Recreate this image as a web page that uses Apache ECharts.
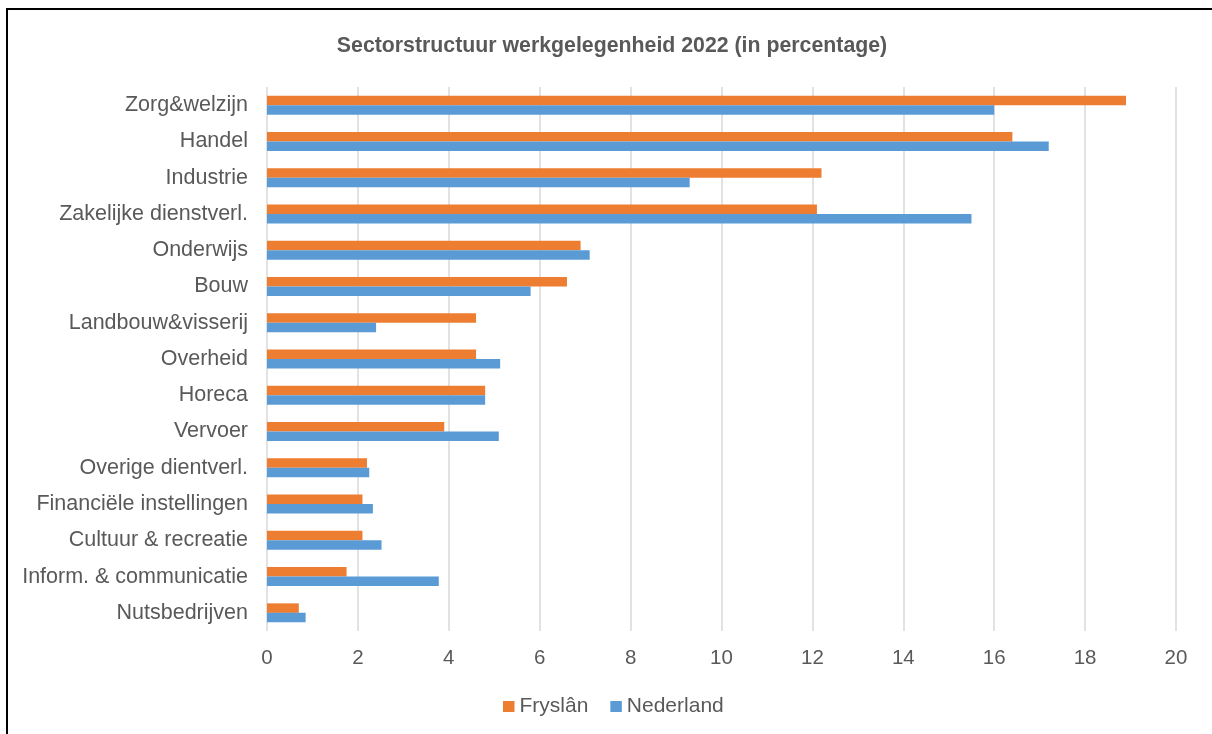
<!DOCTYPE html>
<html>
<head>
<meta charset="utf-8">
<script src="https://cdn.jsdelivr.net/npm/echarts@6/dist/echarts.min.js"></script>
<style>
  html, body { margin: 0; padding: 0; background: #fff; }
  #chart { width: 1212px; height: 734px; }
</style>
</head>
<body>
<div id="chart"></div>
<script>
  // sectoren, van boven naar beneden
  var sectors = [
    'Zorg&welzijn', 'Handel', 'Industrie', 'Zakelijke dienstverl.', 'Onderwijs',
    'Bouw', 'Landbouw&visserij', 'Overheid', 'Horeca', 'Vervoer',
    'Overige dientverl.', 'Financiële instellingen', 'Cultuur & recreatie',
    'Inform. & communicatie', 'Nutsbedrijven'
  ];
  var fryslan = [18.9, 16.4, 12.2, 12.1, 6.9, 6.6, 4.6, 4.6, 4.8, 3.9, 2.2, 2.1, 2.1, 1.75, 0.7];
  var nederland = [16.0, 17.2, 9.3, 15.5, 7.1, 5.8, 2.4, 5.13, 4.8, 5.1, 2.25, 2.33, 2.52, 3.78, 0.85];
  var xTicks = [0, 2, 4, 6, 8, 10, 12, 14, 16, 18, 20];

  var textColor = '#595959';
  var font = 'Liberation Sans, Arial, sans-serif';

  var myChart = echarts.init(document.getElementById('chart'));
  var option = {
    animation: false,
    backgroundColor: '#fff',
    textStyle: { fontFamily: font },
    title: {
      text: 'Sectorstructuur werkgelegenheid 2022 (in percentage)',
      left: 607,
      top: 31,
      textAlign: 'center',
      textStyle: { color: textColor, fontSize: 21.3, fontWeight: 'bold', fontFamily: font }
    },
    graphic: [{
      type: 'rect',
      shape: { x: 7, y: 9, width: 1400, height: 1000 },
      style: { fill: 'none', stroke: '#000', lineWidth: 2 },
      silent: true
    }],
    legend: {
      data: ['Fryslân', 'Nederland'],
      left: 498,
      top: 691,
      itemWidth: 11.5,
      itemHeight: 11,
      itemGap: 22,
      icon: 'rect',
      textStyle: { color: textColor, fontSize: 21, fontFamily: font }
    },
    grid: {
      left: 267,
      right: 36,
      top: 87,
      bottom: 103,
      containLabel: false
    },
    xAxis: {
      type: 'value',
      min: xTicks[0],
      max: xTicks[xTicks.length - 1],
      interval: 2,
      axisLine: { show: false },
      axisTick: { show: false },
      axisLabel: { color: textColor, fontSize: 20.5, fontFamily: font, margin: 17 },
      splitLine: { lineStyle: { color: '#d9d9d9', width: 1.5 } }
    },
    yAxis: {
      type: 'category',
      data: sectors,
      inverse: true,
      axisLine: { show: false },
      axisTick: { show: false },
      axisLabel: { color: textColor, fontSize: 21.5, fontFamily: font, margin: 19 }
    },
    series: [{
      name: 'Fryslân',
      type: 'bar',
      data: fryslan,
      barWidth: 9.5,
      barGap: '0%',
      itemStyle: { color: '#ED7D31' }
    }, {
      name: 'Nederland',
      type: 'bar',
      data: nederland,
      barWidth: 9.5,
      barGap: '0%',
      itemStyle: { color: '#5B9BD5' }
    }]
  };
  myChart.setOption(option);
</script>
</body>
</html>
